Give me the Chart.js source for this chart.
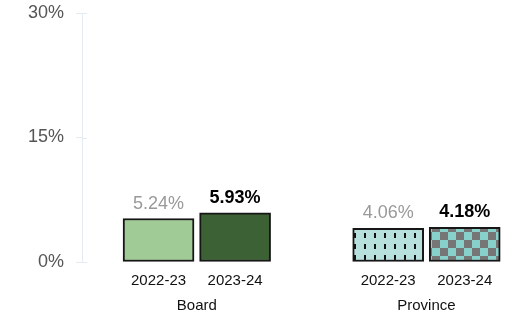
<!DOCTYPE html>
<html>
<head>
<meta charset="utf-8">
<script src="https://cdn.jsdelivr.net/npm/chart.js@4"></script>
<style>
  html, body { margin: 0; padding: 0; background: #fff; }
  #wrap { width: 516px; height: 316px; }
</style>
</head>
<body>
<div id="wrap"><canvas id="rateChart" width="516" height="316"></canvas></div>
<script>
// datos
const groups = ['Board', 'Province'];
const years = ['2022-23', '2023-24'];
const boardValues = [5.24, 5.93];
const provinceValues = [4.06, 4.18];
const yTicks = [0, 15, 30];

const FONT = 'Arial, "Liberation Sans", sans-serif';
const AXIS_COLOR = '#e4ebf3';

// patrones para las barras de Province
function dashPattern() {
    const c = document.createElement('canvas');
    c.width = 10; c.height = 11;
    const g = c.getContext('2d');
    g.fillStyle = '#b8e0dd';
    g.fillRect(0, 0, 10, 11);
    g.fillStyle = '#111';
    g.fillRect(4, 2, 2, 5);
    return g.createPattern(c, 'repeat');
}
function checkerPattern() {
    const c = document.createElement('canvas');
    c.width = 16; c.height = 16;
    const g = c.getContext('2d');
    g.fillStyle = '#88d0ca';
    g.fillRect(0, 0, 16, 16);
    g.fillStyle = '#767676';
    g.fillRect(0, 0, 8, 8);
    g.fillRect(8, 8, 8, 8);
    return g.createPattern(c, 'repeat');
}

const allValues = [boardValues, provinceValues];
const points = [];
allValues.forEach((vals, g) => {
    vals.forEach((v, i) => points.push({ x: g * 3 + i + 1, y: v }));
});
const barColors = ['#a0cb96', '#3c6134', dashPattern(), checkerPattern()];

// etiquetas de valor encima de las barras
const valueLabels = {
    id: 'valueLabels',
    afterDatasetsDraw(chart) {
        const ctx = chart.ctx;
        const meta = chart.getDatasetMeta(0);
        ctx.save();
        ctx.textAlign = 'center';
        ctx.textBaseline = 'alphabetic';
        meta.data.forEach((bar, idx) => {
            const latest = idx % 2 === 1;
            ctx.font = (latest ? 'bold ' : '') + '18px ' + FONT;
            ctx.fillStyle = latest ? '#000' : '#999';
            ctx.fillText(points[idx].y.toFixed(2) + '%', bar.x, bar.y - 10);
        });
        ctx.restore();
    }
};

// marcas del eje y que cruzan la línea
const crossTicks = {
    id: 'crossTicks',
    afterDraw(chart) {
        const ctx = chart.ctx;
        const y = chart.scales.y;
        ctx.save();
        ctx.strokeStyle = AXIS_COLOR;
        ctx.lineWidth = 1;
        yTicks.forEach(t => {
            const py = Math.round(y.getPixelForValue(t)) + 0.5;
            ctx.beginPath();
            ctx.moveTo(chart.chartArea.left, py);
            ctx.lineTo(chart.chartArea.left + 5, py);
            ctx.stroke();
        });
        ctx.restore();
    }
};

const ctx = document.getElementById('rateChart').getContext('2d');
const rateChart = new Chart(ctx, {
    type: 'bar',
    data: {
        datasets: [{
            data: points,
            backgroundColor: barColors,
            borderColor: '#161616',
            borderWidth: 2,
            borderSkipped: false,
            barThickness: 71
        }]
    },
    options: {
        responsive: false,
        animation: false,
        layout: { padding: { top: 13, right: 13, left: 0, bottom: 2 } },
        plugins: { legend: { display: false }, tooltip: { enabled: false } },
        scales: {
            x: {
                type: 'linear',
                offset: false,
                min: 0,
                max: 5.5,
                grid: { display: false, drawTicks: false },
                border: { display: false },
                afterBuildTicks: s => { s.ticks = points.map(p => ({ value: p.x })); },
                afterFit: s => { s.height = 27; },
                ticks: {
                    padding: 10,
                    color: '#111',
                    font: { family: FONT, size: 15 },
                    maxRotation: 0,
                    callback: (v) => years[(v - 1) % 3]
                }
            },
            x2: {
                type: 'linear',
                position: 'bottom',
                offset: false,
                min: 0,
                max: 5.5,
                grid: { display: false, drawTicks: false },
                border: { display: false },
                afterBuildTicks: s => { s.ticks = groups.map((g, i) => ({ value: i * 3 + 1.5 })); },
                afterFit: s => { s.height = 25; },
                ticks: {
                    padding: 8,
                    color: '#111',
                    font: { family: FONT, size: 15 },
                    maxRotation: 0,
                    callback: (v) => groups[Math.round((v - 1.5) / 3)]
                }
            },
            y: {
                min: 0,
                max: 30,
                afterBuildTicks: s => { s.ticks = yTicks.map(v => ({ value: v })); },
                afterFit: s => { s.width = 82; s.paddingTop = 0; s.paddingBottom = 0; },
                grid: { drawOnChartArea: false, color: AXIS_COLOR, tickLength: 6 },
                border: { color: AXIS_COLOR },
                ticks: {
                    padding: 12,
                    color: '#555',
                    font: { family: FONT, size: 18 },
                    callback: v => v + '%'
                }
            }
        }
    },
    plugins: [valueLabels, crossTicks]
});
</script>
</body>
</html>
